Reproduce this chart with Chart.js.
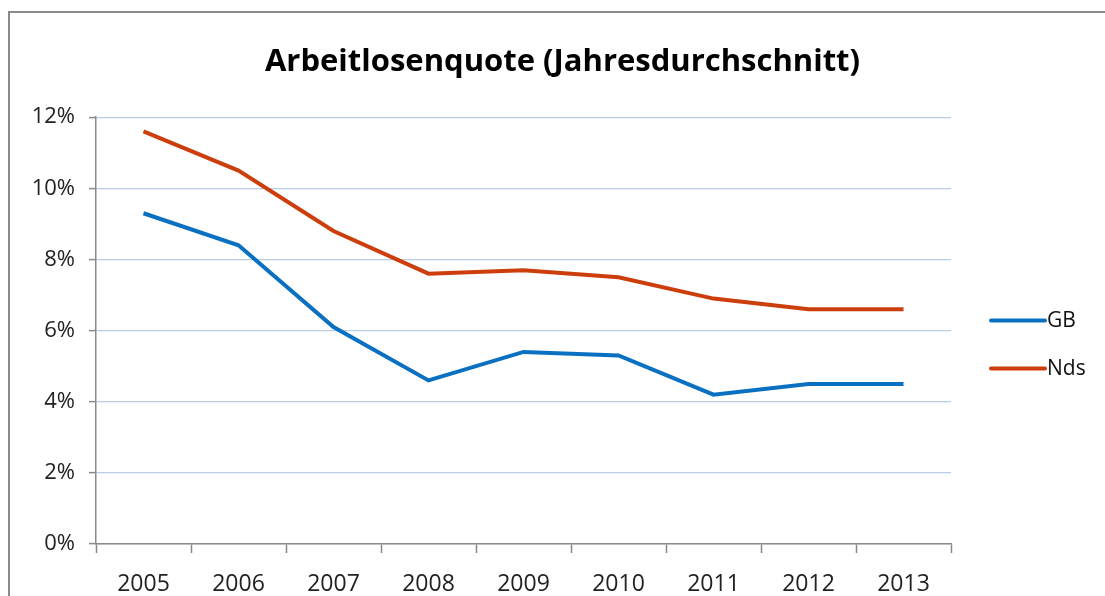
<!DOCTYPE html>
<html>
<head>
<meta charset="utf-8">
<script src="https://cdn.jsdelivr.net/npm/chart.js@4"></script>
<style>
  html, body { margin: 0; padding: 0; background: #fff; overflow: hidden; }
  body { width: 1105px; height: 596px; position: relative; }
  #frame {
    position: absolute; left: 8px; top: 11px;
    width: 1200px; height: 700px;
    border: 2px solid #8a8a8a;
  }
  #wrap { position: absolute; left: 20px; top: 0; width: 1085px; height: 596px; }
</style>
</head>
<body>
<div id="frame"></div>
<div id="wrap"><canvas id="lineChart" width="1085" height="596"></canvas></div>
<script>
var years = ['2005', '2006', '2007', '2008', '2009', '2010', '2011', '2012', '2013'];
var gbValues = [9.3, 8.4, 6.1, 4.6, 5.4, 5.3, 4.2, 4.5, 4.5];
var ndsValues = [11.6, 10.5, 8.8, 7.6, 7.7, 7.5, 6.9, 6.6, 6.6];
var seriesNames = ['GB', 'Nds'];
var seriesColors = ['#0a70c2', '#cc3e0c'];

var FONT = '"Open Sans", sans-serif';

// legend drawn to the right of the plot, Excel style
var sideLegend = {
    id: 'sideLegend',
    afterDraw: function (chart) {
        var c = chart.ctx;
        var area = chart.chartArea;
        var x0 = area.right + 40;
        var yMid = (area.top + area.bottom) / 2 + 14;
        c.save();
        c.font = '21px ' + FONT;
        c.textBaseline = 'middle';
        chart.data.datasets.forEach(function (ds, i) {
            var y = yMid - 24 + i * 48;
            c.strokeStyle = ds.borderColor;
            c.lineWidth = 4;
            c.lineCap = 'round';
            c.beginPath();
            c.moveTo(x0, y);
            c.lineTo(x0 + 54, y);
            c.stroke();
            c.fillStyle = '#111';
            c.fillText(ds.label, x0 + 56, y);
        });
        c.restore();
    }
};

var ctx = document.getElementById('lineChart').getContext('2d');
var myChart = new Chart(ctx, {
    type: 'line',
    data: {
        labels: years,
        datasets: [{
            label: seriesNames[0],
            data: gbValues,
            borderColor: seriesColors[0],
            backgroundColor: seriesColors[0],
            borderWidth: 4,
            pointRadius: 0,
            tension: 0
        }, {
            label: seriesNames[1],
            data: ndsValues,
            borderColor: seriesColors[1],
            backgroundColor: seriesColors[1],
            borderWidth: 4,
            pointRadius: 0,
            tension: 0
        }]
    },
    plugins: [sideLegend],
    options: {
        responsive: false,
        animation: false,
        devicePixelRatio: 1,
        layout: {
            padding: 0
        },
        plugins: {
            legend: { display: false },
            tooltip: { enabled: false },
            title: {
                display: true,
                text: 'Arbeitlosenquote (Jahresdurchschnitt)',
                color: '#000',
                font: { family: FONT, size: 31, weight: 'bold' },
                padding: { top: 44, bottom: 36 }
            }
        },
        scales: {
            x: {
                offset: true,
                grid: {
                    offset: true,
                    drawOnChartArea: false,
                    drawTicks: true,
                    tickLength: 9,
                    tickColor: '#8a8a8a',
                    tickWidth: 1.5
                },
                border: { color: '#8a8a8a', width: 1.5 },
                ticks: {
                    color: '#222',
                    font: { family: FONT, size: 23 },
                    padding: 18,
                    maxRotation: 0
                },
                afterFit: function (scale) { scale.height = 52; }
            },
            y: {
                min: 0,
                max: 12,
                grid: {
                    color: '#b9cde5',
                    lineWidth: 1.2,
                    drawTicks: true,
                    tickLength: 7,
                    tickColor: '#8a8a8a',
                    tickWidth: 1.5
                },
                border: { color: '#8a8a8a', width: 1.5 },
                ticks: {
                    stepSize: 2,
                    color: '#222',
                    font: { family: FONT, size: 22 },
                    padding: 14,
                    callback: function (v) { return v + '%'; }
                },
                afterFit: function (scale) { scale.width = 76; }
            },
            // empty right-hand axis that only reserves room for the legend
            legendSpace: {
                type: 'linear',
                position: 'right',
                display: true,
                grid: { drawOnChartArea: false, drawTicks: false },
                border: { display: false },
                ticks: { display: false },
                afterFit: function (scale) { scale.width = 154; }
            }
        }
    }
});
</script>
</body>
</html>
